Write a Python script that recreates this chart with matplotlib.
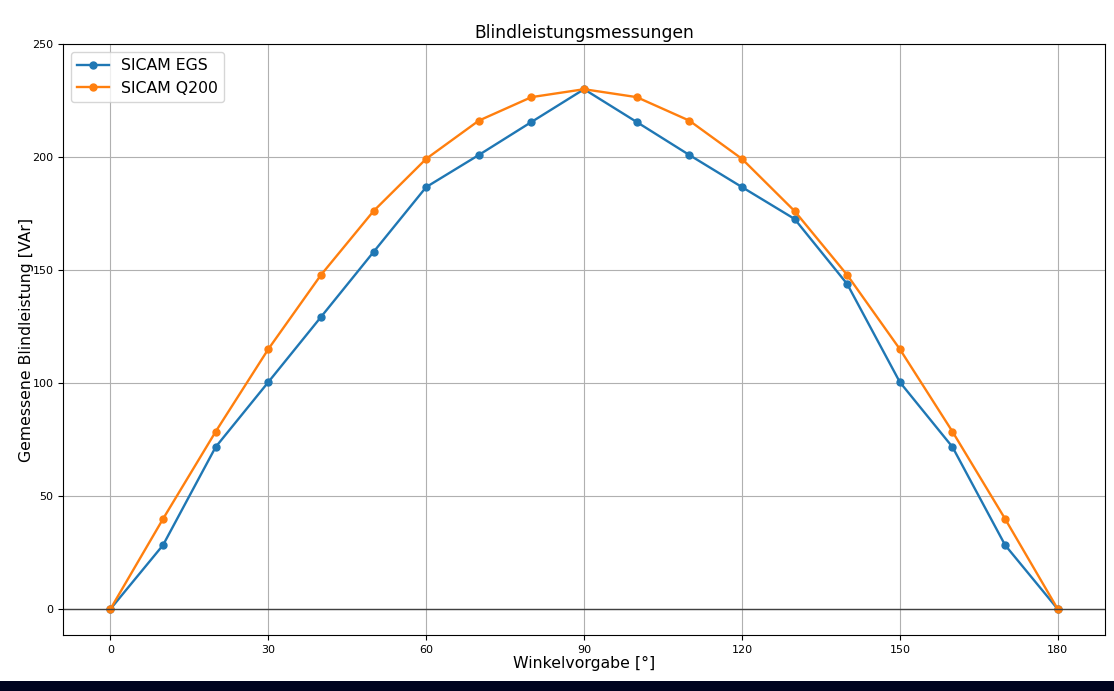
import matplotlib
matplotlib.use('Agg')
import matplotlib.pyplot as plt
from matplotlib.patches import Rectangle

# Winkel in Grad
winkel = [0, 10, 20, 30, 40, 50, 60, 70, 80, 90, 100, 110, 120, 130, 140, 150, 160, 170, 180]
# gemessene Blindleistung [VAr]
egs = [0, 28.3, 71.7, 100.4, 129.2, 158.0, 186.7, 200.9, 215.5, 230.0,
       215.5, 200.9, 186.7, 172.6, 143.8, 100.4, 71.7, 28.3, 0]
q200 = [0, 39.9, 78.5, 115.0, 147.8, 176.1, 199.2, 216.1, 226.5, 230.0,
        226.5, 216.1, 199.2, 176.1, 147.8, 115.0, 78.5, 39.9, 0]
xticks = [0, 30, 60, 90, 120, 150, 180]

fig = plt.figure(figsize=(11.14, 6.91), dpi=100)
ax = fig.add_axes([0.0566, 0.081, 0.9354, 0.8553])

ax.plot(winkel, egs, marker='o', markersize=5, linewidth=1.7, label='SICAM EGS')
ax.plot(winkel, q200, marker='o', markersize=5, linewidth=1.7, label='SICAM Q200')
ax.axhline(0, color='#404040', linewidth=1)

ax.set_xticks(xticks)
ax.set_ylim(top=250)
ax.tick_params(labelsize=8)
ax.grid(True)
ax.set_title('Blindleistungsmessungen', fontsize=12.3, pad=4)
ax.set_xlabel('Winkelvorgabe [°]', fontsize=11.3, labelpad=1)
ax.set_ylabel('Gemessene Blindleistung [VAr]', fontsize=11.3, labelpad=-1)
ax.legend(loc='upper left', fontsize=11.3)

# dunkler Balken am unteren Rand
fig.patches.append(Rectangle((0, 0), 1, 10 / 691, transform=fig.transFigure,
                             facecolor='#00041f', edgecolor='none'))

fig.savefig('out.png', dpi=100)
